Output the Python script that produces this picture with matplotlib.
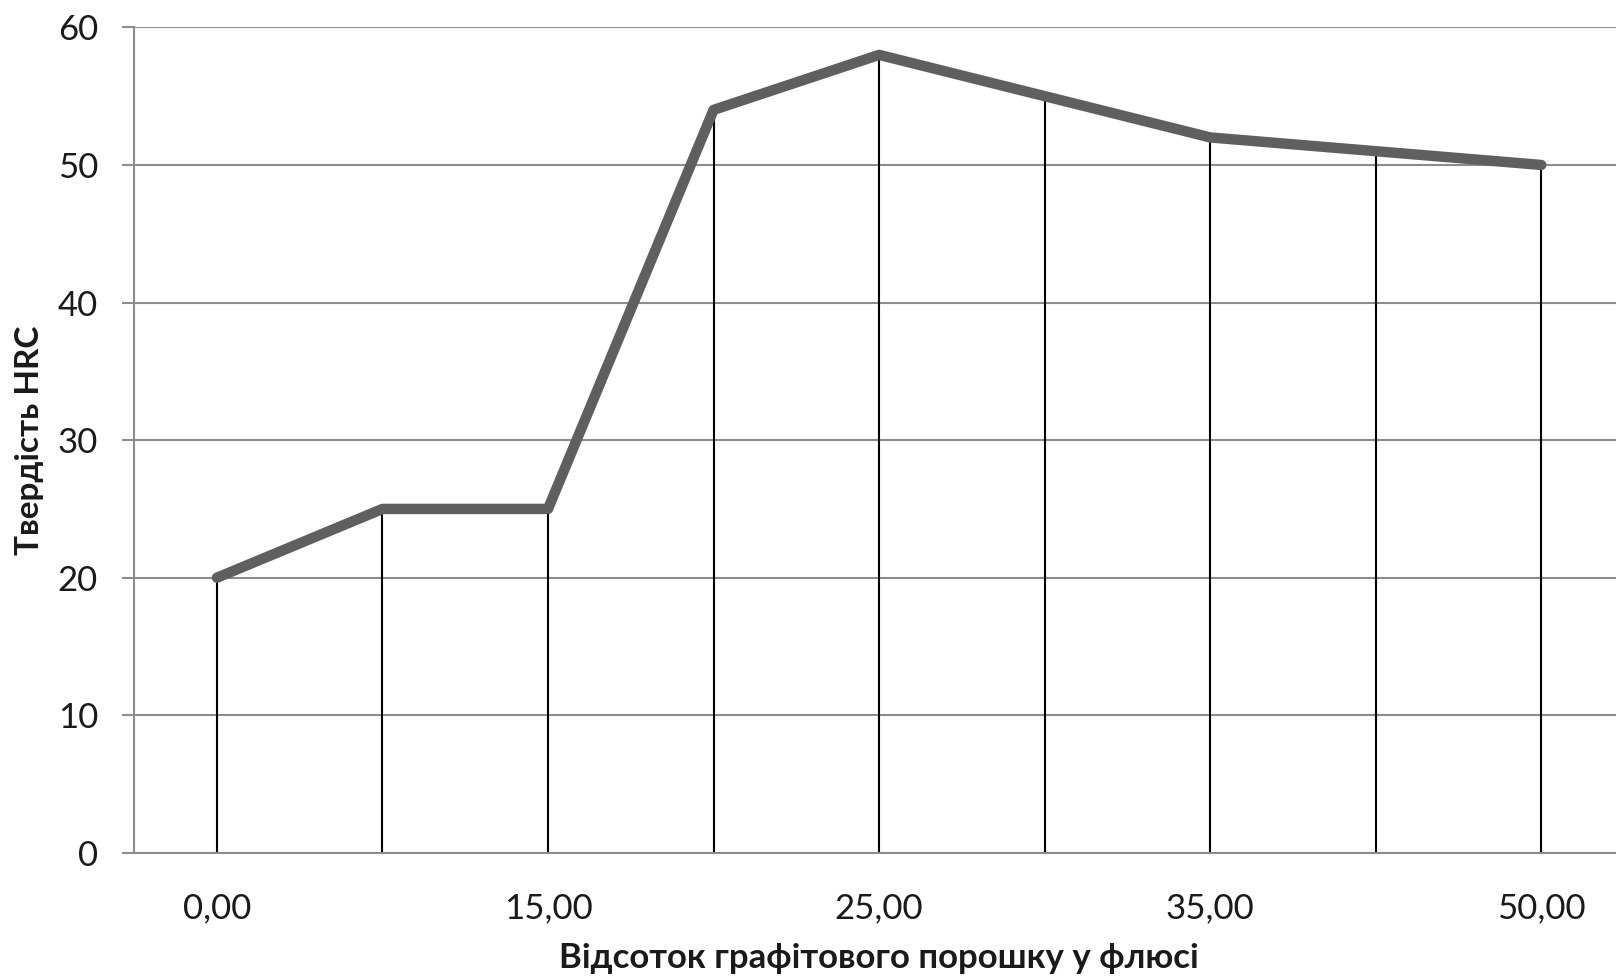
import matplotlib.pyplot as plt

# Hardness vs. graphite powder share in the flux
categories = ["0,00", "10,00", "15,00", "20,00", "25,00", "30,00", "35,00", "40,00", "50,00"]
hardness = [20, 25, 25, 54, 58, 55, 52, 51, 50]
y_ticks = [0, 10, 20, 30, 40, 50, 60]

plt.rcParams["font.family"] = ["Lato", "DejaVu Sans"]

fig = plt.figure(figsize=(16.16, 9.77), dpi=100)
ax = fig.add_axes([0.083, 0.127, 0.922, 0.845])

x = list(range(len(categories)))

# Drop lines from each point to the axis
ax.vlines(x, 0, hardness, color="black", linewidth=1.5, zorder=2)

# Main series
ax.plot(x, hardness, color="#5f5f5f", linewidth=7.5, solid_capstyle="round",
        solid_joinstyle="round", zorder=3)

ax.set_xlim(-0.5, len(categories) - 0.5)
ax.set_ylim(0, 60)
ax.set_yticks(y_ticks)
ax.yaxis.grid(True, color="#8c8c8c", linewidth=1.5)
ax.set_axisbelow(True)

ax.set_xticks(x)
ax.set_xticklabels([c if i % 2 == 0 else "" for i, c in enumerate(categories)])

for side in ["top", "right"]:
    ax.spines[side].set_visible(False)
for side in ["left", "bottom"]:
    ax.spines[side].set_color("#8c8c8c")
    ax.spines[side].set_linewidth(1.5)

ax.tick_params(axis="y", length=9, width=1.5, color="#8c8c8c", pad=17,
               labelsize=25, labelcolor="#1a1a1a")
ax.tick_params(axis="x", length=0, pad=28, labelsize=25, labelcolor="#1a1a1a")

ax.set_xlabel("Відсоток графітового порошку у флюсі", fontsize=25,
              fontweight="bold", color="#1a1a1a", labelpad=13)
ax.set_ylabel("Твердість HRC", fontsize=24, fontweight="bold",
              color="#1a1a1a", labelpad=10)

fig.savefig("out.png", dpi=100)
